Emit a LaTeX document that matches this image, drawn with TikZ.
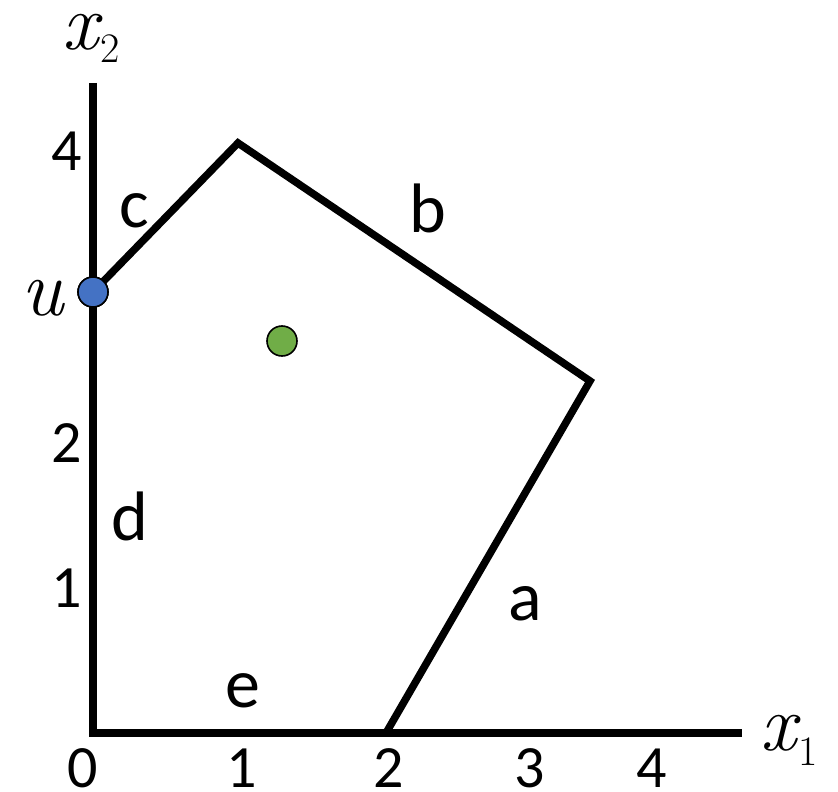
\documentclass[tikz,border=0pt]{standalone}
\usepackage{fontspec}
\setmainfont{Carlito}
\newfontfamily\lmfont{Latin Modern Roman}
\definecolor{dotblue}{HTML}{4472C4}
\definecolor{dotgreen}{HTML}{70AD47}
\begin{document}
\begin{tikzpicture}[x=1pt,y=-1pt,
  thickline/.style={line width=7.5pt,line join=miter},
  tick/.style={anchor=base,inner sep=0pt,font=\fontsize{60}{60}\selectfont},
  edgelabel/.style={anchor=base,inner sep=0pt,font=\fontsize{70}{70}\selectfont},
  mathlabel/.style={inner sep=0pt,font=\lmfont\fontsize{80}{80}\selectfont},
  dot/.style={circle,draw=black,line width=1.6pt,minimum size=30pt,inner sep=0pt}]
\useasboundingbox (0,0) rectangle (838,792);
% axes
\coordinate (ytop) at (93,83);
\coordinate (O) at (93,733);
\coordinate (xend) at (742,733);
\draw[thickline] (ytop) -- (O) -- (xend);
% polygon
\coordinate (v1) at (238,143);
\coordinate (v2) at (590,381);
\coordinate (v3) at (386,733);
\node[dot,fill=dotblue] (u) at (93,292) {};
\draw[thickline] (u.center) -- (v1) -- (v2) -- (v3);
\node[dot,fill=dotblue] at (93,292) {};
\node[dot,fill=dotgreen] (g) at (282,341) {};
% axis labels
\node[mathlabel,anchor=base west] (x2) at (62,50) {\itshape x\upshape\kern2pt\raisebox{-13pt}{\fontsize{42}{42}\selectfont 2}};
\node[mathlabel,anchor=base west] (x1) at (760,750) {\itshape x\upshape\kern2pt\raisebox{-15pt}{\fontsize{42}{42}\selectfont 1}};
\node[mathlabel,anchor=base] (ul) at (42,315) {\itshape u};
% ticks
\node[tick] (y4) at (67,170) {4};
\node[tick] (y2) at (67,462) {2};
\node[tick] (y1) at (67,607) {1};
\node[tick] (t0) at (83,787) {0};
\node[tick] (t1) at (242,787) {1};
\node[tick] (t2) at (389,787) {2};
\node[tick] (t3) at (530,787) {3};
\node[tick] (t4) at (652,787) {4};
% edge labels
\node[edgelabel] (la) at (525,620) {a};
\node[edgelabel] (lb) at (428,232) {b};
\node[edgelabel] (lc) at (134,227) {c};
\node[edgelabel] (ld) at (130,540) {d};
\node[edgelabel] (le) at (243,707) {e};
\end{tikzpicture}
\end{document}
